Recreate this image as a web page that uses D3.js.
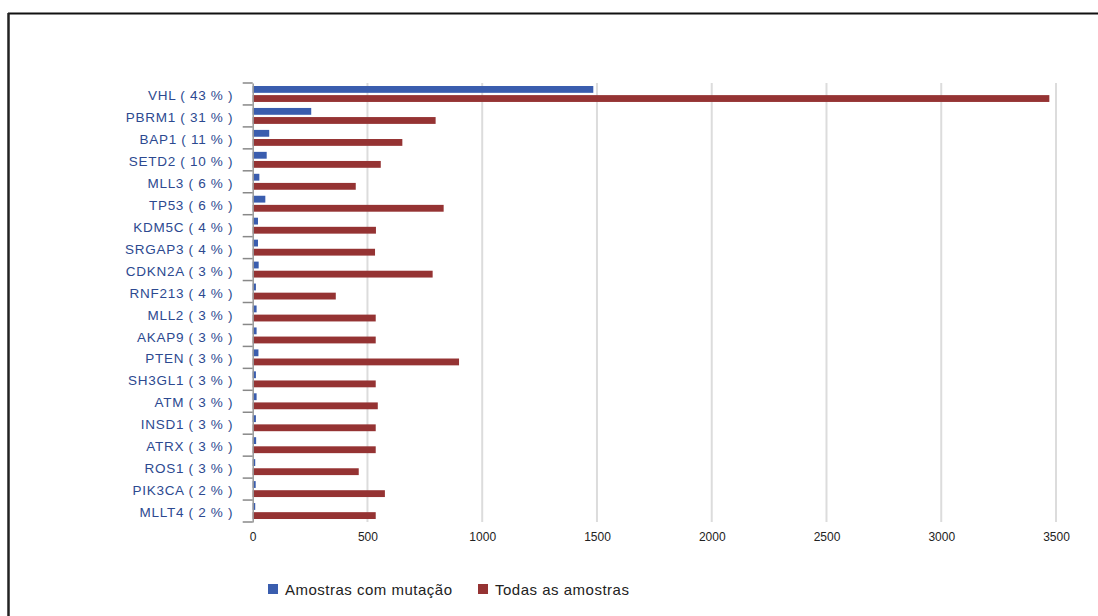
<!DOCTYPE html>
<html>
<head>
<meta charset="utf-8">
<script src="https://cdn.jsdelivr.net/npm/d3@7"></script>
<style>
  html, body { margin: 0; padding: 0; background: #fff; }
  svg { display: block; }
  text { font-family: "Liberation Sans", Arial, sans-serif; }
</style>
</head>
<body>
<svg id="chart" width="1098" height="616"></svg>
<script>
// Genes with the share of mutated samples shown in the label
const genes = ["VHL", "PBRM1", "BAP1", "SETD2", "MLL3", "TP53", "KDM5C", "SRGAP3", "CDKN2A", "RNF213",
               "MLL2", "AKAP9", "PTEN", "SH3GL1", "ATM", "INSD1", "ATRX", "ROS1", "PIK3CA", "MLLT4"];
const percents = [43, 31, 11, 10, 6, 6, 4, 4, 3, 4, 3, 3, 3, 3, 3, 3, 3, 3, 2, 2];
// Samples carrying a mutation in the gene
const mutated = [1484, 255, 72, 61, 29, 55, 23, 23, 26, 14, 17, 17, 25, 14, 17, 14, 15, 11, 13, 11];
// All samples screened for the gene
const allSamples = [3471, 797, 652, 558, 449, 832, 537, 533, 784, 362, 536, 536, 899, 536, 545, 536, 536, 462, 576, 536];
const xTicks = [0, 500, 1000, 1500, 2000, 2500, 3000, 3500];
const seriesNames = ["Amostras com mutação", "Todas as amostras"];
const seriesColors = ["#3a5dae", "#953333"];

const svg = d3.select("#chart");

// outer frame (top and left edges)
svg.append("line").attr("x1", 8).attr("x2", 1098).attr("y1", 13.5).attr("y2", 13.5)
  .attr("stroke", "#111").attr("stroke-width", 2);
svg.append("line").attr("x1", 8.5).attr("x2", 8.5).attr("y1", 13).attr("y2", 616)
  .attr("stroke", "#222").attr("stroke-width", 2.5);

const plotLeft = 252.7, plotRight = 1056, plotTop = 83, plotBottom = 522;

const x = d3.scaleLinear().domain([0, 3500]).range([plotLeft, plotRight]);
const y = d3.scaleBand().domain(genes).range([plotTop, plotBottom]).paddingInner(0).paddingOuter(0);
const sub = d3.scaleBand().domain([0, 1]).range([3, y.bandwidth() - 3]).paddingInner(0.25);

// vertical gridlines
svg.append("g").selectAll("line").data(xTicks.filter(d => d > 0)).join("line")
  .attr("x1", d => x(d)).attr("x2", d => x(d))
  .attr("y1", plotTop).attr("y2", plotBottom)
  .attr("stroke", "#dcdcdc").attr("stroke-width", 2);

// bars
const rows = svg.append("g").selectAll("g").data(genes).join("g")
  .attr("transform", d => `translate(0,${y(d)})`);
rows.append("rect")
  .attr("x", x(0)).attr("y", sub(0)).attr("height", sub.bandwidth())
  .attr("width", (d, i) => x(mutated[i]) - x(0))
  .attr("fill", seriesColors[0]);
rows.append("rect")
  .attr("x", x(0)).attr("y", sub(1)).attr("height", sub.bandwidth())
  .attr("width", (d, i) => x(allSamples[i]) - x(0))
  .attr("fill", seriesColors[1]);

// category axis
const yAxis = d3.axisLeft(y).tickSize(0).tickPadding(19.5)
  .tickFormat((d, i) => `${d} ( ${percents[i]} % )`);
const gy = svg.append("g").attr("transform", `translate(${plotLeft},0)`).call(yAxis);
gy.select(".domain").attr("stroke", "#999").attr("stroke-width", 1.5);
gy.selectAll(".tick text").attr("font-size", 13.5).attr("letter-spacing", 0.7)
  .attr("dy", "0.45em").attr("fill", "#2c4990");
// boundary ticks between categories
gy.append("g").selectAll("line").data(d3.range(genes.length + 1)).join("line")
  .attr("x1", -10).attr("x2", 0)
  .attr("y1", i => plotTop + i * y.step()).attr("y2", i => plotTop + i * y.step())
  .attr("stroke", "#888").attr("stroke-width", 1.5);

// value axis
const xAxis = d3.axisBottom(x).tickValues(xTicks).tickFormat(d3.format("d")).tickSize(0).tickPadding(10);
const gx = svg.append("g").attr("transform", `translate(0,${plotBottom})`).call(xAxis);
gx.select(".domain").remove();
gx.selectAll("text").attr("font-size", 12).attr("fill", "#222");

// legend
const legendX = [268, 478];
const lg = svg.append("g").selectAll("g").data(seriesNames).join("g")
  .attr("transform", (d, i) => `translate(${legendX[i]},584)`);
lg.append("rect").attr("width", 10).attr("height", 10).attr("fill", (d, i) => seriesColors[i]);
lg.append("text").attr("x", 17).attr("y", 5).attr("dy", "0.37em")
  .attr("font-size", 15).attr("letter-spacing", 0.5).attr("fill", "#222").text(d => d);
</script>
</body>
</html>
